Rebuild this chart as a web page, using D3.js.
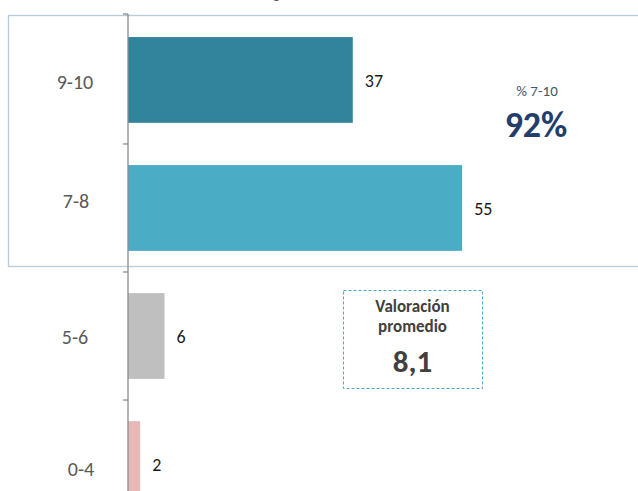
<!DOCTYPE html>
<html>
<head>
<meta charset="utf-8">
<script src="https://cdn.jsdelivr.net/npm/d3@7"></script>
<style>
  html, body { margin: 0; padding: 0; background: #ffffff; }
  svg { display: block; font-family: Calibri, Carlito, Lato, "Open Sans", sans-serif; }
</style>
</head>
<body>
<div id="chart"></div>
<script>
"use strict";

const categories = ["9-10", "7-8", "5-6", "0-4"];
const values = [37, 55, 6, 2];
const barColors = ["#31849b", "#4bacc6", "#bfbfbf", "#e6b9b8"];
const topShareLabel = "% 7-10";
const topShareValue = "92%";
const averageLines = ["Valoración", "promedio"];
const averageValue = "8,1";
const titleText = "Valoración general del servicio (%)";

(function renderChart() {
  const width = 638;
  const height = 491;
  const axisX = 128;

  const svg = d3
    .select("#chart")
    .append("svg")
    .attr("width", width)
    .attr("height", height)
    .attr("viewBox", `0 0 ${width} ${height}`);

  // title is cut off at the top edge in the source image
  svg
    .append("text")
    .attr("x", 312)
    .attr("y", -2)
    .attr("text-anchor", "middle")
    .attr("font-size", 16)
    .attr("fill", "#595959")
    .text(titleText);

  const y = d3
    .scaleBand()
    .domain(categories)
    .range([14, 530])
    .paddingInner(0.33)
    .paddingOuter(0.18);

  const x = d3.scaleLinear().domain([0, 80]).range([axisX, 614]);

  // highlight frame around the top two groups
  svg
    .append("rect")
    .attr("x", 8.5)
    .attr("y", 15.5)
    .attr("width", 640)
    .attr("height", 251)
    .attr("fill", "none")
    .attr("stroke", "#b9cad8")
    .attr("stroke-width", 1.3);

  const rows = categories.map((cat, i) => ({ cat, value: values[i], color: barColors[i], i }));

  svg
    .selectAll("rect.bar")
    .data(rows)
    .join("rect")
    .attr("class", "bar")
    .attr("x", x(0))
    .attr("y", (d) => y(d.cat))
    .attr("width", (d) => x(d.value) - x(0))
    .attr("height", y.bandwidth())
    .attr("fill", (d) => d.color);

  // category axis with ticks between bands
  const axisG = svg.append("g").attr("transform", `translate(${axisX},0)`);
  axisG
    .append("line")
    .attr("x1", 0)
    .attr("x2", 0)
    .attr("y1", 14)
    .attr("y2", height)
    .attr("stroke", "#8c8c8c")
    .attr("stroke-width", 1.3);

  const tickYs = [14].concat(categories.slice(1).map((cat) => y(cat) - (y.step() * y.paddingInner()) / 2));
  axisG
    .selectAll("line.tick")
    .data(tickYs)
    .join("line")
    .attr("class", "tick")
    .attr("x1", -5)
    .attr("x2", 0)
    .attr("y1", (d) => d)
    .attr("y2", (d) => d)
    .attr("stroke", "#8c8c8c")
    .attr("stroke-width", 1.3);

  // small per-row nudges to match where the labels sit in the source
  const catDy = [9, 0, 8, 12];
  const catDx = [0, 1, 0, 6];

  svg
    .selectAll("text.cat")
    .data(rows)
    .join("text")
    .attr("class", "cat")
    .attr("x", (d) => 75 + catDx[d.i])
    .attr("y", (d) => y(d.cat) + y.bandwidth() / 2 + catDy[d.i])
    .attr("text-anchor", "middle")
    .attr("font-size", 20)
    .attr("fill", "#595959")
    .text((d) => d.cat);

  svg
    .selectAll("text.val")
    .data(rows)
    .join("text")
    .attr("class", "val")
    .attr("x", (d) => x(d.value) + 12)
    .attr("y", (d) => y(d.cat) + y.bandwidth() / 2 + 7)
    .attr("font-size", 18)
    .attr("fill", "#1a1a1a")
    .text((d) => d.value);

  // % 7-10 callout
  svg
    .append("text")
    .attr("x", 537)
    .attr("y", 96)
    .attr("text-anchor", "middle")
    .attr("font-size", 15)
    .attr("fill", "#44546a")
    .text(topShareLabel);

  svg
    .append("text")
    .attr("x", 536)
    .attr("y", 137)
    .attr("text-anchor", "middle")
    .attr("font-size", 36)
    .attr("font-weight", 700)
    .attr("fill", "#233e6c")
    .text(topShareValue);

  // average callout box
  const boxX = 343;
  const boxY = 290;
  const boxW = 139;
  const boxH = 98;
  svg
    .append("rect")
    .attr("x", boxX + 0.5)
    .attr("y", boxY + 0.5)
    .attr("width", boxW)
    .attr("height", boxH)
    .attr("fill", "#ffffff")
    .attr("stroke", "#4bacc6")
    .attr("stroke-width", 1)
    .attr("stroke-dasharray", "3,2");

  svg
    .selectAll("text.avg")
    .data(averageLines)
    .join("text")
    .attr("class", "avg")
    .attr("x", boxX + boxW / 2)
    .attr("y", (d, i) => boxY + 22 + i * 20)
    .attr("text-anchor", "middle")
    .attr("font-size", 17)
    .attr("font-weight", 700)
    .attr("fill", "#404040")
    .text((d) => d);

  svg
    .append("text")
    .attr("x", boxX + boxW / 2)
    .attr("y", boxY + 82)
    .attr("text-anchor", "middle")
    .attr("font-size", 31)
    .attr("font-weight", 700)
    .attr("fill", "#404040")
    .text(averageValue);
})();
</script>
</body>
</html>
